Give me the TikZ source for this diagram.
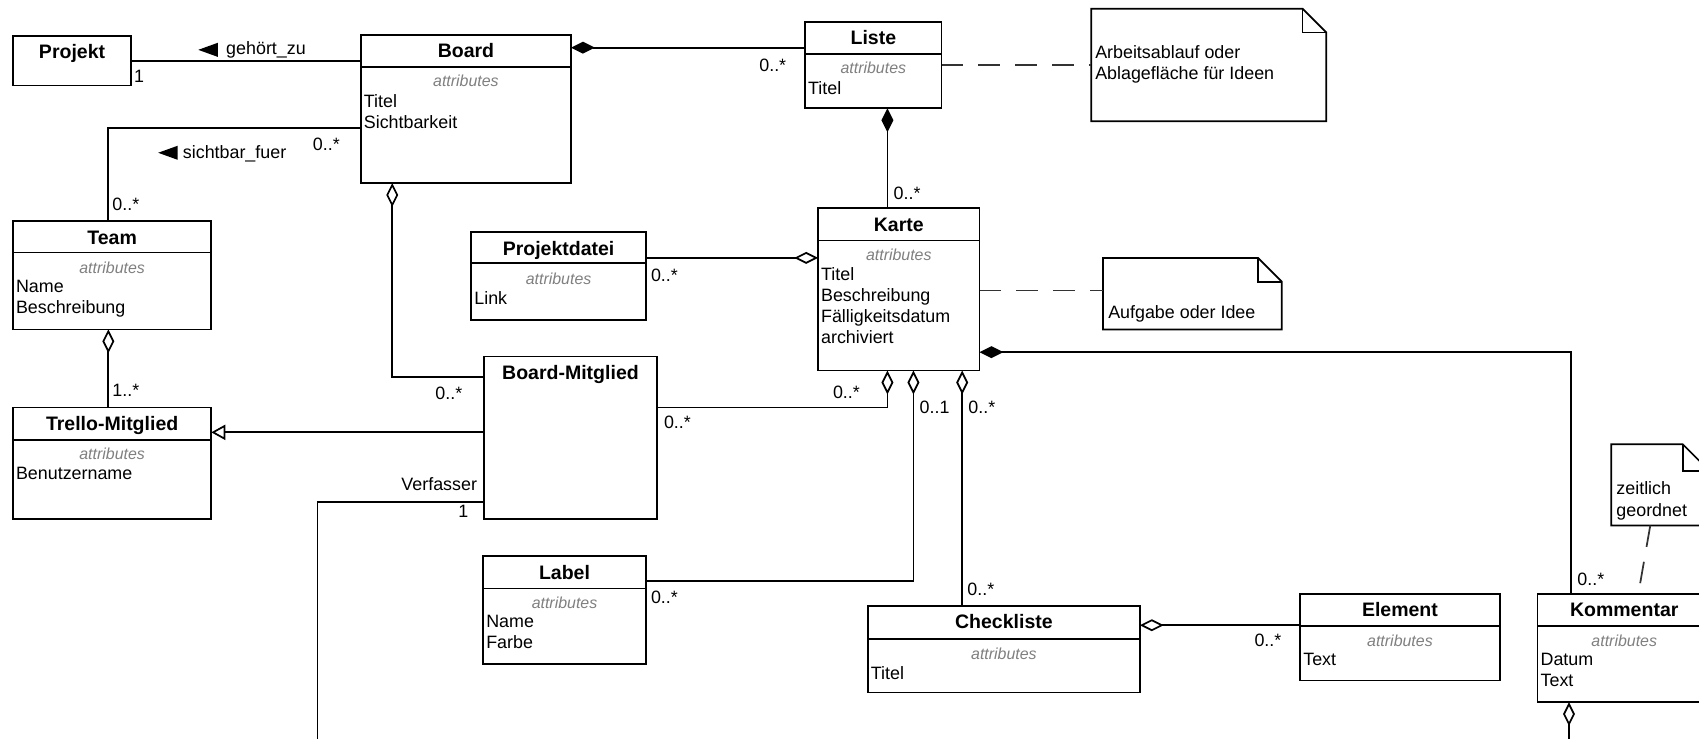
\documentclass[tikz,border=0pt]{standalone}
\usepackage{fontspec}
\setmainfont{Liberation Sans}
\usepackage{tikz}
\usetikzlibrary{calc}
\usetikzlibrary{arrows.meta}

\begin{document}
\begin{tikzpicture}[x=1pt,y=-1pt,line width=1.6pt]
    \tikzstyle{umlclass}=[draw,anchor=north west,inner sep=0pt,outer sep=0pt]
    \tikzstyle{class name}=[font=\fontsize{18}{21}\selectfont\bfseries,inner sep=0pt,text height=12.8pt,text depth=0pt]
    \tikzstyle{attribute title}=[font=\fontsize{14.7}{17}\selectfont\itshape,color=gray,inner sep=0pt,text height=10.5pt,text depth=0pt]
    \tikzstyle{attribute list}=[font=\fontsize{16.5}{19.5}\selectfont,anchor=north west,align=left,inner sep=0pt]
    \tikzstyle{multiplicity}=[font=\fontsize{16.5}{19}\selectfont,anchor=west,inner sep=0pt,text height=11.8pt,text depth=0pt]
    \tikzstyle{role name}=[font=\fontsize{16.5}{19}\selectfont,anchor=west,inner sep=0pt,text height=11.8pt,text depth=0pt]
    \tikzstyle{notebox}=[anchor=north west,inner sep=0pt,outer sep=0pt]
    \tikzstyle{note text}=[font=\fontsize{16.5}{20}\selectfont,anchor=north west,align=left,inner sep=0pt]
    \tikzstyle{aggregation}=[{Diamond[open,length=22pt,width=11pt]}-]
    \tikzstyle{composition}=[{Diamond[length=22pt,width=11pt]}-]
    \tikzstyle{generalization}=[-{Triangle[open,length=13pt,width=14pt]}]
    \tikzstyle{anchor line}=[dash pattern=on 20pt off 14pt,color=black!80]

    \useasboundingbox (0,0) rectangle (1568,682);
    \fill[white] (0,0) rectangle (1568,682);
    \clip (0,0) rectangle (1568,682);

    % Klassen
    \node[umlclass,minimum width=109,minimum height=46] (projekt) at (12,33) {};
    \node[class name] (projekt-name) at ($(projekt.north)+(0,15)$) {Projekt};

    \node[umlclass,minimum width=194,minimum height=137] (board) at (333,32) {};
    \node[class name] (board-name) at ($(board.north)+(0,15)$) {Board};
    \draw ($(board.north west)+(0,30)$) -- ($(board.north east)+(0,30)$);
    \node[attribute title] (board-head) at ($(board.north)+(0,43)$) {attributes};
    \node[attribute list] (board-attr) at ($(board.north west)+(2,54)$) {Titel\\Sichtbarkeit};

    \node[umlclass,minimum width=126,minimum height=80] (liste) at (743,20) {};
    \node[class name] (liste-name) at ($(liste.north)+(0,15)$) {Liste};
    \draw ($(liste.north west)+(0,30)$) -- ($(liste.north east)+(0,30)$);
    \node[attribute title] (liste-head) at ($(liste.north)+(0,43)$) {attributes};
    \node[attribute list] (liste-attr) at ($(liste.north west)+(2,54)$) {Titel};

    \node[umlclass,minimum width=149,minimum height=150] (karte) at (755,192) {};
    \node[class name] (karte-name) at ($(karte.north)+(0,15)$) {Karte};
    \draw ($(karte.north west)+(0,30)$) -- ($(karte.north east)+(0,30)$);
    \node[attribute title] (karte-head) at ($(karte.north)+(0,43)$) {attributes};
    \node[attribute list] (karte-attr) at ($(karte.north west)+(2,54)$) {Titel\\Beschreibung\\Fälligkeitsdatum\\archiviert};

    \node[umlclass,minimum width=161,minimum height=81] (projektdatei) at (435,214) {};
    \node[class name] (projektdatei-name) at ($(projektdatei.north)+(0,15)$) {Projektdatei};
    \draw ($(projektdatei.north west)+(0,29)$) -- ($(projektdatei.north east)+(0,29)$);
    \node[attribute title] (projektdatei-head) at ($(projektdatei.north)+(0,43)$) {attributes};
    \node[attribute list] (projektdatei-attr) at ($(projektdatei.north west)+(2,54)$) {Link};

    \node[umlclass,minimum width=183,minimum height=100] (team) at (12,204) {};
    \node[class name] (team-name) at ($(team.north)+(0,15)$) {Team};
    \draw ($(team.north west)+(0,29)$) -- ($(team.north east)+(0,29)$);
    \node[attribute title] (team-head) at ($(team.north)+(0,43)$) {attributes};
    \node[attribute list] (team-attr) at ($(team.north west)+(2,54)$) {Name\\Beschreibung};

    \node[umlclass,minimum width=183,minimum height=103] (trello) at (12,376) {};
    \node[class name] (trello-name) at ($(trello.north)+(0,15)$) {Trello-Mitglied};
    \draw ($(trello.north west)+(0,30)$) -- ($(trello.north east)+(0,30)$);
    \node[attribute title] (trello-head) at ($(trello.north)+(0,43)$) {attributes};
    \node[attribute list] (trello-attr) at ($(trello.north west)+(2,54)$) {Benutzername};

    \node[umlclass,minimum width=159,minimum height=150] (boardmitglied) at (447,329) {};
    \node[class name] (boardmitglied-name) at ($(boardmitglied.north)+(0,15)$) {Board-Mitglied};

    \node[umlclass,minimum width=150,minimum height=100] (label) at (446,513) {};
    \node[class name] (label-name) at ($(label.north)+(0,15)$) {Label};
    \draw ($(label.north west)+(0,30)$) -- ($(label.north east)+(0,30)$);
    \node[attribute title] (label-head) at ($(label.north)+(0,43)$) {attributes};
    \node[attribute list] (label-attr) at ($(label.north west)+(2,54)$) {Name\\Farbe};

    \node[umlclass,minimum width=251,minimum height=80] (checkliste) at (801,559) {};
    \node[class name] (checkliste-name) at ($(checkliste.north)+(0,15)$) {Checkliste};
    \draw ($(checkliste.north west)+(0,31)$) -- ($(checkliste.north east)+(0,31)$);
    \node[attribute title] (checkliste-head) at ($(checkliste.north)+(0,44)$) {attributes};
    \node[attribute list] (checkliste-attr) at ($(checkliste.north west)+(2,55)$) {Titel};

    \node[umlclass,minimum width=184,minimum height=80] (element) at (1200,548) {};
    \node[class name] (element-name) at ($(element.north)+(0,15)$) {Element};
    \draw ($(element.north west)+(0,30)$) -- ($(element.north east)+(0,30)$);
    \node[attribute title] (element-head) at ($(element.north)+(0,43)$) {attributes};
    \node[attribute list] (element-attr) at ($(element.north west)+(2,54)$) {Text};

    \node[umlclass,minimum width=160,minimum height=100] (kommentar) at (1419,548) {};
    \node[class name] (kommentar-name) at ($(kommentar.north)+(0,15)$) {Kommentar};
    \draw ($(kommentar.north west)+(0,30)$) -- ($(kommentar.north east)+(0,30)$);
    \node[attribute title] (kommentar-head) at ($(kommentar.north)+(0,43)$) {attributes};
    \node[attribute list] (kommentar-attr) at ($(kommentar.north west)+(2,54)$) {Datum\\Text};

    % Notizen
    \node[notebox,minimum width=217,minimum height=104] (note1) at (1007,8) {};
    \draw (note1.north west) -- ($(note1.north east)+(-22,0)$) -- ($(note1.north east)+(0,22)$) -- (note1.south east) -- (note1.south west) -- cycle;
    \draw ($(note1.north east)+(-22,0)$) |- ($(note1.north east)+(0,22)$);
    \node[note text] (note1-text) at ($(note1.north west)+(3,33)$) {Arbeitsablauf oder\\Ablagefläche für Ideen};

    \node[notebox,minimum width=165,minimum height=66] (note2) at (1018,238) {};
    \draw (note2.north west) -- ($(note2.north east)+(-22,0)$) -- ($(note2.north east)+(0,22)$) -- (note2.south east) -- (note2.south west) -- cycle;
    \draw ($(note2.north east)+(-22,0)$) |- ($(note2.north east)+(0,22)$);
    \node[note text] (note2-text) at ($(note2.north west)+(4,43)$) {Aufgabe oder Idee};

    \node[notebox,minimum width=91,minimum height=75] (note3) at (1487,410) {};
    \draw (note3.north west) -- ($(note3.north east)+(-25,0)$) -- ($(note3.north east)+(0,25)$) -- (note3.south east) -- (note3.south west) -- cycle;
    \draw ($(note3.north east)+(-25,0)$) |- ($(note3.north east)+(0,25)$);
    \node[note text] (note3-text) at ($(note3.north west)+(4,34)$) {zeitlich\\geordnet};

    % Projekt - Board
    \draw (projekt.east) -- (projekt.east -| board.west);
    \node[multiplicity] (m-projekt) at (123,70) {1};
    \node[role name] (gehoert) at (208,44) {gehört\_zu};
    \fill ($(gehoert.west)+(-7,2)$) -- ++(0,-6.5) -- ++(-18,6.5) -- ++(18,6.5) -- cycle;

    % Board - Team
    \draw ($(board.north west)+(0,86)$) -| ($(team.north west)+(88,0)$);
    \node[multiplicity] (m-board-team) at (288,133) {0..*};
    \node[multiplicity] (m-team-board) at (103,188) {0..*};
    \node[role name] (sichtbar) at (168,140) {sichtbar\_fuer};
    \fill ($(sichtbar.west)+(-4,1)$) -- ++(0,-6.5) -- ++(-18,6.5) -- ++(18,6.5) -- cycle;

    % Board - Liste
    \coordinate (board-liste) at ($(board.north east)+(0,12)$);
    \draw[composition] (board-liste) -- (board-liste -| liste.west);
    \node[multiplicity] (m-liste) at (700,60) {0..*};
    \draw[anchor line] (liste.east) -- (liste.east -| note1.west);

    % Liste - Karte
    \coordinate (liste-karte) at ($(liste.south west)+(76,0)$);
    \draw[composition] (liste-karte) -- (liste-karte |- karte.north);
    \node[multiplicity] (m-karte-liste) at (824,178) {0..*};

    % Projektdatei - Karte
    \coordinate (datei-karte) at ($(projektdatei.north east)+(0,24)$);
    \draw[aggregation] (datei-karte -| karte.west) -- (datei-karte);
    \node[multiplicity] (m-datei) at (600,254) {0..*};
    \coordinate (karte-note) at ($(karte.north east)+(0,76)$);
    \draw[anchor line] (karte-note) -- (karte-note -| note2.west);

    % Team - Trello-Mitglied
    \draw[aggregation] ($(team.south west)+(88,0)$) -- ($(trello.north west)+(88,0)$);
    \node[multiplicity] (m-trello) at (103,360) {1..*};

    % Board-Mitglied
    \coordinate (bm-trello) at ($(boardmitglied.north west)+(0,70)$);
    \draw[generalization] (bm-trello) -- (bm-trello -| trello.east);
    \coordinate (board-bm) at ($(board.south west)+(29,0)$);
    \draw[aggregation] (board-bm) |- ($(boardmitglied.north west)+(0,19)$);
    \node[multiplicity] (m-bm-board) at (401,363) {0..*};
    \coordinate (karte-bm) at ($(karte.south west)+(64,0)$);
    \draw[aggregation] (karte-bm) |- ($(boardmitglied.north east)+(0,47)$);
    \node[multiplicity] (m-bm-karte) at (612,390) {0..*};
    \node[multiplicity] (m-karte-bm) at (768,362) {0..*};

    % Verfasser
    \coordinate (verfasser) at ($(boardmitglied.north west)+(0,134)$);
    \coordinate (verfasser-end) at (293,700);
    \draw (verfasser) -| (verfasser-end);
    \node[role name,anchor=east] (verfasser-name) at (441,447) {Verfasser};
    \node[multiplicity,anchor=east] (m-verfasser) at (433,472) {1};

    % Karte - Label
    \coordinate (karte-label) at ($(karte.south west)+(88,0)$);
    \draw[aggregation] (karte-label) |- ($(label.north east)+(0,23)$);
    \node[multiplicity] (m-karte-label) at (848,376) {0..1};
    \node[multiplicity] (m-label) at (600,551) {0..*};

    % Karte - Checkliste - Element
    \coordinate (karte-check) at ($(karte.south west)+(133,0)$);
    \draw[aggregation] (karte-check) -- (karte-check |- checkliste.north);
    \node[multiplicity] (m-karte-check) at (893,376) {0..*};
    \node[multiplicity] (m-check) at (892,544) {0..*};
    \coordinate (check-elem) at ($(checkliste.north east)+(0,18)$);
    \draw[aggregation] (check-elem) -- (check-elem -| element.west);
    \node[multiplicity] (m-elem) at (1157,591) {0..*};

    % Karte - Kommentar
    \coordinate (karte-komm) at ($(karte.north east)+(0,133)$);
    \draw[composition] (karte-komm) -| ($(kommentar.north west)+(31,0)$);
    \node[multiplicity] (m-komm) at (1455,534) {0..*};
    \coordinate (komm-end) at ($(kommentar.south west)+(29,60)$);
    \draw[aggregation] ($(kommentar.south west)+(29,0)$) -- (komm-end);
    \draw[anchor line] ($(note3.south west)+(36,0)$) -- ($(kommentar.north west)+(93,0)$);

\end{tikzpicture}
\end{document}
